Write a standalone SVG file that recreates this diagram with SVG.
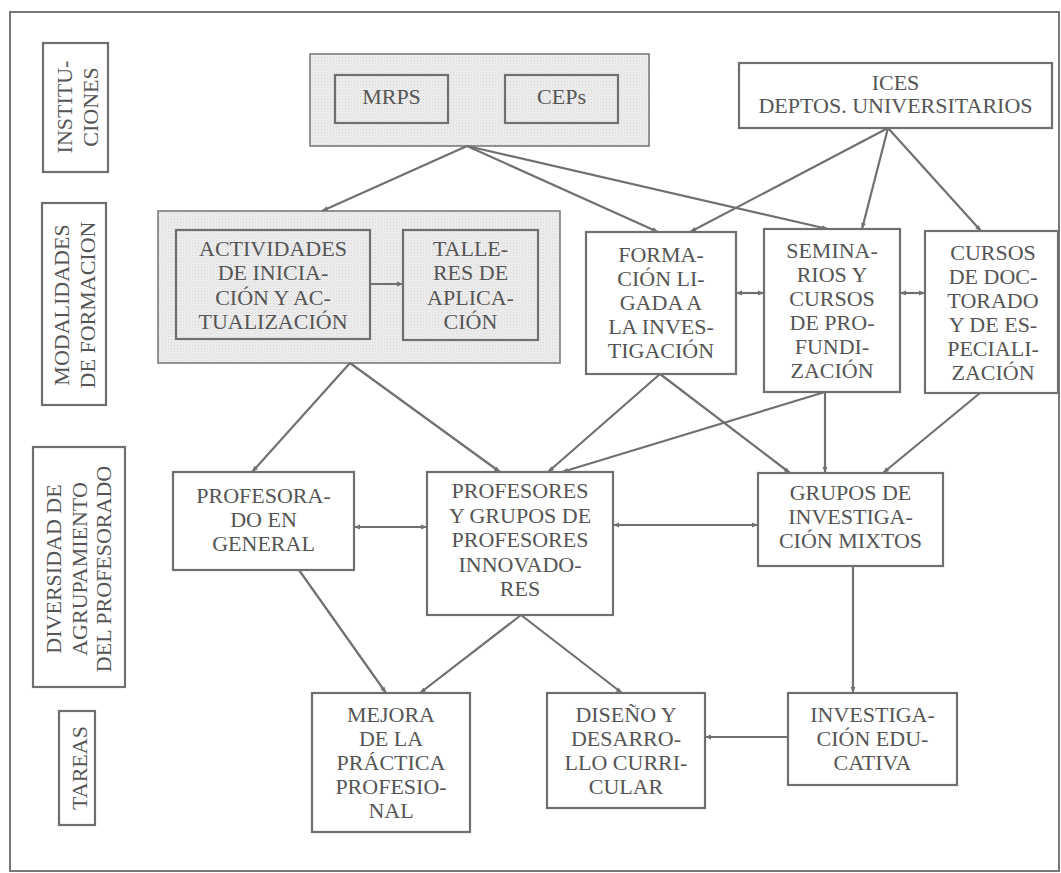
<svg xmlns="http://www.w3.org/2000/svg" width="1061" height="873" viewBox="0 0 1061 873">
<defs>
<pattern id="dots" width="3" height="3" patternUnits="userSpaceOnUse">
<rect width="3" height="3" fill="#efefef"/>
<rect x="0" y="0" width="1" height="1" fill="#d2d2d2"/>
<rect x="1.5" y="1.5" width="1" height="1" fill="#dadada"/>
</pattern>
<marker id="ah" viewBox="0 0 10 10" refX="10" refY="5" markerWidth="7" markerHeight="6" markerUnits="userSpaceOnUse" orient="auto-start-reverse">
<path d="M0,1 L10,5 L0,9 z" fill="#707070"/>
</marker>
</defs>
<style>
.box{fill:#fff;stroke:#6f6f6f;stroke-width:2.2}
.sh{fill:url(#dots);stroke:#7a7a7a;stroke-width:1.6}
.ib{fill:none;stroke:#6f6f6f;stroke-width:2.2}
.t{font-family:"Liberation Serif","DejaVu Serif",serif;font-size:22px;fill:#555;text-anchor:middle}
.c line{stroke:#707070;stroke-width:2.2;fill:none}
.a{marker-end:url(#ah)}
.b{marker-start:url(#ah);marker-end:url(#ah)}
</style>
<rect x="10" y="12" width="1049" height="859" fill="none" stroke="#777" stroke-width="2"/>

<g id="lbl-instituciones">
<rect class="box" x="43" y="43" width="65" height="129"/>
<text class="t" transform="translate(72,107) rotate(-90)">INSTITU-</text>
<text class="t" transform="translate(98,107) rotate(-90)">CIONES</text>
</g>
<g id="lbl-modalidades">
<rect class="box" x="42" y="203" width="64" height="202"/>
<text class="t" transform="translate(69,305) rotate(-90)">MODALIDADES</text>
<text class="t" transform="translate(95,305) rotate(-90)">DE FORMACION</text>
</g>
<g id="lbl-diversidad">
<rect class="box" x="33" y="447" width="92" height="240"/>
<text class="t" transform="translate(61,569) rotate(-90)">DIVERSIDAD DE</text>
<text class="t" transform="translate(87,569) rotate(-90)">AGRUPAMIENTO</text>
<text class="t" transform="translate(111,569) rotate(-90)">DEL PROFESORADO</text>
</g>
<g id="lbl-tareas">
<rect class="box" x="59" y="711" width="36" height="114"/>
<text class="t" transform="translate(87,768) rotate(-90)">TAREAS</text>
</g>

<g id="instituciones-grupo">
<rect class="sh" x="310" y="54" width="339" height="92"/>
<g id="mrps"><rect class="ib" x="335" y="75" width="113" height="48"/><text class="t" x="391.5" y="104">MRPS</text></g>
<g id="ceps"><rect class="ib" x="505" y="75" width="113" height="48"/><text class="t" x="561.5" y="104">CEPs</text></g>
</g>
<g id="ices">
<rect class="box" x="739" y="63" width="313" height="65"/>
<text class="t" x="895.5" y="90">ICES</text>
<text class="t" x="895.5" y="113">DEPTOS. UNIVERSITARIOS</text>
</g>

<g id="modalidades-grupo">
<rect class="sh" x="158" y="211" width="402" height="152"/>
<g id="actividades"><rect class="ib" x="176" y="230" width="194" height="109"/>
<text class="t" x="273" y="256">ACTIVIDADES</text><text class="t" x="273" y="280">DE INICIA-</text><text class="t" x="273" y="304.5">CIÓN Y AC-</text><text class="t" x="273" y="329">TUALIZACIÓN</text></g>
<g id="talleres"><rect class="ib" x="403" y="230" width="135" height="110"/>
<text class="t" x="470.5" y="256">TALLE-</text><text class="t" x="470.5" y="280">RES DE</text><text class="t" x="470.5" y="304.5">APLICA-</text><text class="t" x="470.5" y="329">CIÓN</text></g>
</g>
<g id="formacion">
<rect class="box" x="586" y="232" width="150" height="142"/>
<text class="t" x="661" y="262">FORMA-</text><text class="t" x="661" y="286">CIÓN LI-</text><text class="t" x="661" y="310">GADA A</text><text class="t" x="661" y="334">LA INVES-</text><text class="t" x="661" y="358">TIGACIÓN</text>
</g>
<g id="seminarios">
<rect class="box" x="764" y="229" width="136" height="163"/>
<text class="t" x="832" y="258">SEMINA-</text><text class="t" x="832" y="282">RIOS Y</text><text class="t" x="832" y="306">CURSOS</text><text class="t" x="832" y="330">DE PRO-</text><text class="t" x="832" y="354">FUNDI-</text><text class="t" x="832" y="378">ZACIÓN</text>
</g>
<g id="cursos">
<rect class="box" x="925" y="231" width="133" height="162"/>
<text class="t" x="993" y="260">CURSOS</text><text class="t" x="993" y="284">DE DOC-</text><text class="t" x="993" y="308">TORADO</text><text class="t" x="993" y="332">Y DE ES-</text><text class="t" x="993" y="356">PECIALI-</text><text class="t" x="993" y="380">ZACIÓN</text>
</g>

<g id="profesorado">
<rect class="box" x="173" y="472" width="181" height="98"/>
<text class="t" x="263.5" y="503">PROFESORA-</text><text class="t" x="263.5" y="527">DO EN</text><text class="t" x="263.5" y="551">GENERAL</text>
</g>
<g id="profesores">
<rect class="box" x="427" y="472" width="186" height="143"/>
<text class="t" x="520" y="498">PROFESORES</text><text class="t" x="520" y="522.5">Y GRUPOS DE</text><text class="t" x="520" y="547">PROFESORES</text><text class="t" x="520" y="571.5">INNOVADO-</text><text class="t" x="520" y="596">RES</text>
</g>
<g id="grupos">
<rect class="box" x="758" y="473" width="185" height="93"/>
<text class="t" x="850.5" y="500">GRUPOS DE</text><text class="t" x="850.5" y="524">INVESTIGA-</text><text class="t" x="850.5" y="548">CIÓN MIXTOS</text>
</g>

<g id="mejora">
<rect class="box" x="312" y="693" width="158" height="139"/>
<text class="t" x="391" y="722">MEJORA</text><text class="t" x="391" y="746">DE LA</text><text class="t" x="391" y="770">PRÁCTICA</text><text class="t" x="391" y="794">PROFESIO-</text><text class="t" x="391" y="818">NAL</text>
</g>
<g id="diseno">
<rect class="box" x="547" y="693" width="158" height="115"/>
<text class="t" x="626" y="722">DISEÑO Y</text><text class="t" x="626" y="746">DESARRO-</text><text class="t" x="626" y="770">LLO CURRI-</text><text class="t" x="626" y="794">CULAR</text>
</g>
<g id="investigacion">
<rect class="box" x="788" y="693" width="169" height="92"/>
<text class="t" x="872.5" y="722">INVESTIGA-</text><text class="t" x="872.5" y="746">CIÓN EDU-</text><text class="t" x="872.5" y="770">CATIVA</text>
</g>

<g id="connectors" class="c">
<line class="a" x1="467" y1="146" x2="322" y2="211"/>
<line class="a" x1="467" y1="146" x2="658" y2="232"/>
<line class="a" x1="467" y1="146" x2="828" y2="229"/>
<line class="a" x1="888" y1="128" x2="690" y2="232"/>
<line class="a" x1="888" y1="128" x2="862" y2="229"/>
<line class="a" x1="888" y1="128" x2="981" y2="231"/>
<line class="a" x1="370" y1="284" x2="403" y2="284"/>
<line class="b" x1="736" y1="293" x2="764" y2="293"/>
<line class="b" x1="900" y1="293" x2="925" y2="293"/>
<line class="a" x1="350" y1="363" x2="252" y2="472"/>
<line class="a" x1="350" y1="363" x2="500" y2="472"/>
<line class="a" x1="660" y1="374" x2="548" y2="472"/>
<line class="a" x1="660" y1="374" x2="790" y2="473"/>
<line class="a" x1="825" y1="392" x2="562" y2="472"/>
<line class="a" x1="825" y1="392" x2="825" y2="473"/>
<line class="a" x1="980" y1="393" x2="883" y2="473"/>
<line class="b" x1="354" y1="527" x2="427" y2="527"/>
<line class="b" x1="613" y1="525" x2="758" y2="525"/>
<line class="a" x1="299" y1="570" x2="386" y2="693"/>
<line class="a" x1="521" y1="615" x2="420" y2="693"/>
<line class="a" x1="521" y1="615" x2="622" y2="693"/>
<line class="a" x1="853" y1="566" x2="853" y2="693"/>
<line class="a" x1="788" y1="737" x2="705" y2="737"/>
</g>
</svg>
